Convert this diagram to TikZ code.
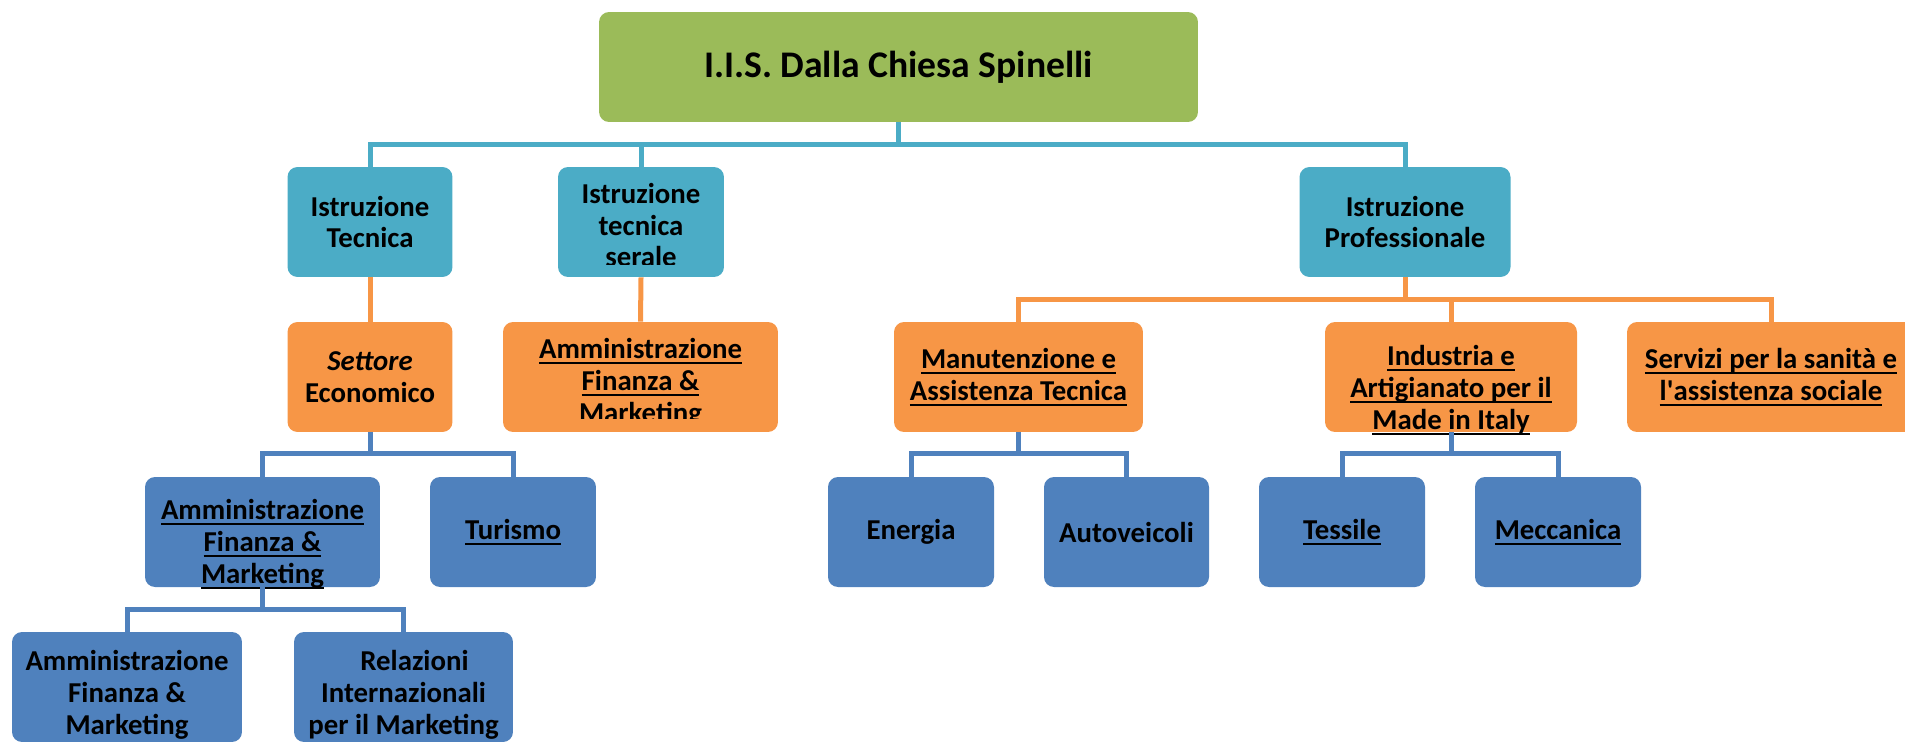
\documentclass[tikz,border=0pt]{standalone}
\usepackage{fontspec}
\setmainfont{Carlito}
\newcommand{\uln}[1]{\setbox0\hbox{#1}\rlap{\rule[-3.25pt]{\wd0}{0.9pt}}\box0}

\begin{document}
\begin{tikzpicture}[x=0.02cm,y=-0.02cm,
  box/.style={rounded corners=0.2cm, inner sep=0pt, minimum height=2.2cm, align=center,
    font=\bfseries\fontsize{16.4}{18.2}\selectfont},
  three/.style={text height=#1, text depth=0pt},
  link/.style={line width=0.1cm}]

\definecolor{iisgreen}{HTML}{9BBB59}
\definecolor{iisteal}{HTML}{4BACC6}
\definecolor{iisorange}{HTML}{F79646}
\definecolor{iisblue}{HTML}{4F81BD}

\useasboundingbox (0,0) rectangle (1905,741);

% root
\node[box, fill=iisgreen, minimum width=11.98cm, font=\bfseries\fontsize{21.4}{25}\selectfont] (iis) at (898.5,67) {I.I.S. Dalla Chiesa Spinelli};

% first level
\node[box, fill=iisteal, minimum width=3.3cm] (tec) at (370,222) {Istruzione\\Tecnica};
\node[box, fill=iisteal, minimum width=3.32cm] (ser) at (641,222) {};
\begin{scope}
  \clip ([yshift=0.26cm]ser.south west) rectangle (ser.north east);
  \node[box, three=1.8cm] (sertxt) at (ser) {Istruzione\\tecnica\\serale};
\end{scope}
\node[box, fill=iisteal, minimum width=4.22cm] (pro) at (1405,222) {Istruzione\\Professionale};

% second level
\node[box, fill=iisorange, minimum width=3.3cm] (set) at (370,377) {\textit{Settore}\\Economico};
\node[box, fill=iisorange, minimum width=5.5cm] (afmo) at (640.5,377) {};
\begin{scope}
  \clip ([yshift=0.28cm]afmo.south west) rectangle (afmo.north east);
  \node[box, three=1.8cm] (afmotxt) at (afmo) {\uln{Amministrazione}\\\uln{Finanza \&}\\\uln{Marketing}};
\end{scope}
\node[box, fill=iisorange, minimum width=4.98cm] (man) at (1018.5,377) {\uln{Manutenzione e}\\\uln{Assistenza Tecnica}};
\node[box, fill=iisorange, minimum width=5.04cm, three=2.08cm] (ind) at (1451,377) {\uln{Industria e}\\\uln{Artigianato per il}\\\uln{Made in Italy}};
\node[box, fill=iisorange, minimum width=5.76cm] (serv) at (1771,377) {\uln{Servizi per la sanità e}\\\uln{l\textquotesingle assistenza sociale}};

% third level
\node[box, fill=iisblue, minimum width=4.7cm, three=2.04cm] (afmb) at (262.5,532) {\uln{Amministrazione}\\\uln{Finanza \&}\\\uln{Marketing}};
\node[box, fill=iisblue, minimum width=3.32cm] (tur) at (513,532) {\uln{Turismo}};
\node[box, fill=iisblue, minimum width=3.32cm] (ene) at (911,532) {Energia};
\node[box, fill=iisblue, minimum width=3.3cm] (aut) at (1126.5,532) {Autoveicoli};
\node[box, fill=iisblue, minimum width=3.32cm] (tes) at (1342,532) {\uln{Tessile}};
\node[box, fill=iisblue, minimum width=3.32cm] (mec) at (1558,532) {\uln{Meccanica}};

% fourth level
\node[box, fill=iisblue, minimum width=4.6cm, three=1.88cm] (afm2) at (127,687) {Amministrazione\\Finanza \&\\Marketing};
\node[box, fill=iisblue, minimum width=4.38cm, three=1.88cm] (rel) at (403.5,687) {\hspace{0.44cm}Relazioni\\Internazionali\\per il Marketing};

% connectors
\draw[link, iisteal] (iis.south) -- ++(0,22) -| (tec.north);
\draw[link, iisteal] (iis.south) -- ++(0,22) -| (ser.north);
\draw[link, iisteal] (iis.south) -- ++(0,22) -| (pro.north);

\draw[link, iisorange] (tec.south) -- (set.north);
\draw[link, iisorange] (ser.south) -- (afmo.north);
\draw[link, iisorange] (pro.south) -- ++(0,22) -| (man.north);
\draw[link, iisorange] (pro.south) -- ++(0,22) -| (ind.north);
\draw[link, iisorange] (pro.south) -- ++(0,22) -| (serv.north);

\draw[link, iisblue] (set.south) -- ++(0,21) -| (afmb.north);
\draw[link, iisblue] (set.south) -- ++(0,21) -| (tur.north);
\draw[link, iisblue] (man.south) -- ++(0,21) -| (ene.north);
\draw[link, iisblue] (man.south) -- ++(0,21) -| (aut.north);
\draw[link, iisblue] (ind.south) -- ++(0,21) -| (tes.north);
\draw[link, iisblue] (ind.south) -- ++(0,21) -| (mec.north);
\draw[link, iisblue] (afmb.south) -- ++(0,22) -| (afm2.north);
\draw[link, iisblue] (afmb.south) -- ++(0,22) -| (rel.north);

\end{tikzpicture}
\end{document}
